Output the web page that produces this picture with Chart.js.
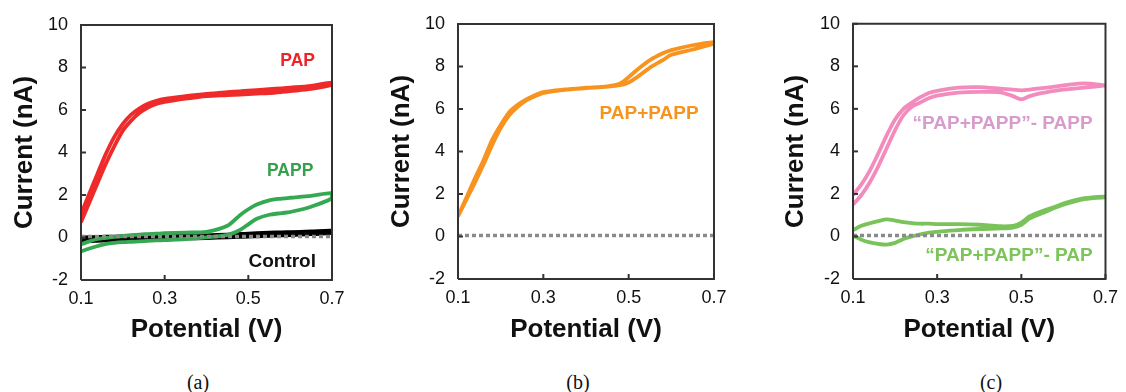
<!DOCTYPE html>
<html>
<head>
<meta charset="utf-8">
<script src="https://cdn.jsdelivr.net/npm/chart.js@4.4.1/dist/chart.umd.min.js"></script>
<style>
    html, body { margin: 0; padding: 0; background: #fff; }
    body { width: 1126px; height: 392px; position: relative; overflow: hidden; }
    canvas { position: absolute; top: 0; }
    .cap {
        position: absolute; top: 371px; transform: translateX(-50%);
        font-family: "Liberation Serif", "Times New Roman", serif; font-size: 20px; color: #111;
    }
</style>
</head>
<body>
<canvas id="chartA" width="375" height="345" style="left:0"></canvas>
<canvas id="chartB" width="375" height="345" style="left:375px"></canvas>
<canvas id="chartC" width="376" height="345" style="left:750px"></canvas>
<div class="cap" style="left:198px">(a)</div>
<div class="cap" style="left:578px">(b)</div>
<div class="cap" style="left:991px">(c)</div>

<script>
// Shared axes
const potential = [0.10, 0.12, 0.14, 0.16, 0.18, 0.20, 0.22, 0.24, 0.26, 0.28, 0.30,
                   0.35, 0.40, 0.45, 0.48, 0.50, 0.52, 0.55, 0.58, 0.60, 0.65, 0.70];
const xTicks = [0.1, 0.3, 0.5, 0.7];
const yTicks = [-2, 0, 2, 4, 6, 8, 10];
const baselineX = [0.1, 0.7];
const baselineY = [0.05, 0.05];

// (a) PAP, PAPP, Control - each scan has a lower and an upper branch (nA)
const papLower   = [0.72, 1.65, 2.58, 3.49, 4.31, 5.03, 5.50, 5.87, 6.12, 6.29, 6.38,
                    6.53, 6.65, 6.70, 6.73, 6.75, 6.77, 6.80, 6.85, 6.89, 6.99, 7.19];
const papUpper   = [1.11, 2.07, 3.03, 3.96, 4.75, 5.35, 5.78, 6.08, 6.29, 6.43, 6.52,
                    6.65, 6.76, 6.84, 6.88, 6.91, 6.94, 6.98, 7.02, 7.05, 7.14, 7.29];
const pappLower  = [-0.66, -0.52, -0.40, -0.30, -0.25, -0.22, -0.20, -0.18, -0.16, -0.14, -0.12,
                    -0.07, 0.01, 0.12, 0.35, 0.62, 0.88, 1.07, 1.15, 1.20, 1.45, 1.85];
const pappUpper  = [-0.32, -0.18, -0.07, -0.02, 0.03, 0.07, 0.11, 0.14, 0.16, 0.18, 0.20,
                    0.23, 0.27, 0.55, 1.05, 1.33, 1.55, 1.75, 1.83, 1.87, 1.96, 2.09];
const ctrlLower  = [-0.20, -0.17, -0.15, -0.13, -0.11, -0.10, -0.09, -0.08, -0.07, -0.06, -0.05,
                    -0.04, -0.02, 0.01, 0.03, 0.05, 0.06, 0.08, 0.10, 0.12, 0.16, 0.22];
const ctrlUpper  = [0.00, 0.01, 0.02, 0.03, 0.04, 0.05, 0.06, 0.06, 0.07, 0.07, 0.08,
                    0.09, 0.10, 0.13, 0.16, 0.18, 0.20, 0.22, 0.24, 0.25, 0.28, 0.32];

// (b) PAP+PAPP
const mixLower   = [0.95, 1.75, 2.55, 3.40, 4.30, 5.10, 5.70, 6.10, 6.40, 6.60, 6.75,
                    6.90, 6.98, 7.05, 7.12, 7.25, 7.50, 7.95, 8.30, 8.55, 8.80, 9.08];
const mixUpper   = [0.95, 1.85, 2.75, 3.60, 4.55, 5.25, 5.85, 6.20, 6.45, 6.65, 6.80,
                    6.92, 7.00, 7.07, 7.20, 7.50, 7.85, 8.30, 8.62, 8.77, 9.00, 9.15];

// (c) differences
const minusPappLower = [1.50, 1.95, 2.55, 3.30, 4.15, 5.00, 5.70, 6.10, 6.30, 6.50, 6.62,
                        6.76, 6.80, 6.78, 6.60, 6.45, 6.60, 6.75, 6.85, 6.90, 7.00, 7.10];
const minusPappUpper = [1.95, 2.45, 3.10, 3.90, 4.75, 5.50, 6.00, 6.30, 6.55, 6.75, 6.85,
                        7.00, 7.02, 6.95, 6.90, 6.87, 6.90, 6.98, 7.05, 7.10, 7.20, 7.10];
const minusPapLower  = [0.05, -0.15, -0.28, -0.35, -0.38, -0.30, -0.12, 0.00, 0.10, 0.18, 0.22,
                        0.30, 0.35, 0.38, 0.42, 0.55, 0.85, 1.10, 1.35, 1.50, 1.75, 1.85];
const minusPapUpper  = [0.30, 0.50, 0.62, 0.72, 0.80, 0.75, 0.68, 0.63, 0.60, 0.60, 0.58,
                        0.58, 0.55, 0.48, 0.50, 0.65, 0.95, 1.20, 1.40, 1.55, 1.80, 1.88];

Chart.defaults.font.family = '"Liberation Sans", Arial, sans-serif';
Chart.defaults.color = '#111';

const frameColor = '#333333';

// lower branch out to 0.7 V, upper branch back to 0.1 V
function loop(lower, upper) {
    const out = potential.map((x, i) => ({ x: x, y: lower[i] }));
    for (let i = potential.length - 1; i >= 0; i--) out.push({ x: potential[i], y: upper[i] });
    return out;
}

function scan(lower, upper, color, width) {
    return {
        data: loop(lower, upper),
        showLine: true, borderColor: color, borderWidth: width || 3.8,
        pointRadius: 0, tension: 0.3, fill: false
    };
}

function baseline() {
    return {
        data: baselineX.map((x, i) => ({ x: x, y: baselineY[i] })),
        showLine: true, borderColor: '#8a8a8a', borderWidth: 3.5,
        borderDash: [4, 3], pointRadius: 0
    };
}

// plot box drawn as a closed line through the axis limits
function frame() {
    const x0 = xTicks[0], x1 = xTicks[xTicks.length - 1];
    const y0 = yTicks[0], y1 = yTicks[yTicks.length - 1];
    return {
        data: [{ x: x0, y: y0 }, { x: x1, y: y0 }, { x: x1, y: y1 }, { x: x0, y: y1 }, { x: x0, y: y0 }],
        showLine: true, borderColor: frameColor, borderWidth: 2,
        pointRadius: 0, tension: 0, clip: 4
    };
}

// inward tick marks and curve labels
const framePlugin = {
    id: 'frame',
    afterDraw(chart, args, opts) {
        const ctx = chart.ctx;
        const x = chart.scales.x, y = chart.scales.y;
        const left = x.getPixelForValue(x.min), bottom = y.getPixelForValue(y.min);
        const w = 2;
        ctx.save();
        ctx.fillStyle = frameColor;
        xTicks.forEach(v => {
            ctx.fillRect(x.getPixelForValue(v) - w / 2, bottom - 5, w, 5);
        });
        yTicks.forEach(v => {
            ctx.fillRect(left, y.getPixelForValue(v) - w / 2, 5, w);
        });
        ctx.textAlign = 'center';
        ctx.textBaseline = 'middle';
        (opts.labels || []).forEach(l => {
            ctx.fillStyle = l.color;
            ctx.font = 'bold ' + l.size + 'px "Liberation Sans", Arial, sans-serif';
            ctx.fillText(l.text, x.getPixelForValue(l.x), y.getPixelForValue(l.y));
        });
        ctx.restore();
    }
};

function makePanel(id, datasets, labels, lay) {
    new Chart(document.getElementById(id), {
        type: 'scatter',
        data: { datasets: [frame()].concat(datasets) },
        options: {
            responsive: false,
            animation: false,
            events: [],
            layout: { padding: { left: 0, top: lay.top, right: lay.right, bottom: 0 } },
            plugins: {
                legend: { display: false },
                tooltip: { enabled: false },
                frame: { labels: labels }
            },
            scales: {
                x: {
                    type: 'linear', min: 0.1, max: 0.7,
                    afterBuildTicks: s => { s.ticks = xTicks.map(v => ({ value: v })); },
                    afterFit: s => { s.height = lay.xHeight; },
                    grid: { display: false, drawTicks: false },
                    border: { display: false },
                    ticks: { padding: 8, font: { size: 18 }, maxRotation: 0, autoSkip: false,
                             callback: v => v.toFixed(1) },
                    title: { display: true, text: 'Potential (V)',
                             font: { size: 26, weight: 'bold' }, padding: { top: 0, bottom: 0 } }
                },
                y: {
                    type: 'linear', min: -2, max: 10,
                    afterBuildTicks: s => { s.ticks = yTicks.map(v => ({ value: v })); },
                    afterFit: s => { s.width = lay.yWidth; },
                    grid: { display: false, drawTicks: false },
                    border: { display: false },
                    ticks: { padding: 13, font: { size: 18 }, callback: v => String(v) },
                    title: { display: true, text: 'Current (nA)',
                             font: { size: 26, weight: 'bold' }, padding: { top: lay.titlePad, bottom: 0 } }
                }
            }
        },
        plugins: [framePlugin]
    });
}

makePanel('chartA', [
    baseline(),
    scan(pappLower, pappUpper, '#35a852'),
    scan(ctrlLower, ctrlUpper, '#000000', 4),
    scan(papLower, papUpper, '#ee2a2a')
], [
    { text: 'PAP', x: 0.618, y: 8.28, color: '#ee2229', size: 17.5 },
    { text: 'PAPP', x: 0.600, y: 3.10, color: '#35a04d', size: 17.5 },
    { text: 'Control', x: 0.581, y: -1.13, color: '#111111', size: 19 }
], { top: 25, right: 43, xHeight: 65, yWidth: 81, titlePad: 9 });

makePanel('chartB', [
    baseline(),
    scan(mixLower, mixUpper, '#f7931e')
], [
    { text: 'PAP+PAPP', x: 0.548, y: 5.79, color: '#f7941d', size: 19 }
], { top: 24, right: 36, xHeight: 66, yWidth: 83, titlePad: 11 });

makePanel('chartC', [
    baseline(),
    scan(minusPapLower, minusPapUpper, '#7ac35a'),
    scan(minusPappLower, minusPappUpper, '#f28cbd')
], [
    { text: '\u201cPAP+PAPP\u201d- PAPP', x: 0.4555, y: 5.28, color: '#d89ccc', size: 19 },
    { text: '\u201cPAP+PAPP\u201d- PAP', x: 0.4707, y: -0.93, color: '#7dc55b', size: 19 }
], { top: 23, right: 15, xHeight: 66, yWidth: 103, titlePad: 30 });
</script>
</body>
</html>
